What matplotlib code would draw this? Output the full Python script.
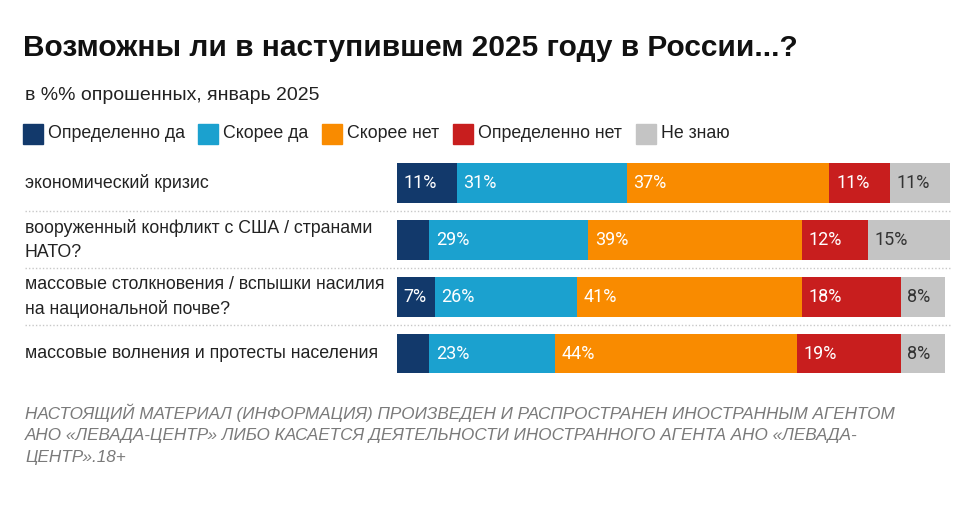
import matplotlib
matplotlib.use("Agg")
import matplotlib.pyplot as plt
from matplotlib.patches import Rectangle
from matplotlib.lines import Line2D
from matplotlib.transforms import blended_transform_factory

categories = [
    "экономический кризис",
    "вооруженный конфликт с США / странами\nНАТО?",
    "массовые столкновения / вспышки насилия\nна национальной почве?",
    "массовые волнения и протесты населения",
]
answers = ["Определенно да", "Скорее да", "Скорее нет", "Определенно нет", "Не знаю"]
definitely_yes = [11, 6, 7, 6]
rather_yes = [31, 29, 26, 23]
rather_no = [37, 39, 41, 44]
definitely_no = [11, 12, 18, 19]
dont_know = [11, 15, 8, 8]

series = [definitely_yes, rather_yes, rather_no, definitely_no, dont_know]
colors = ["#12396b", "#1ba1cf", "#f98b00", "#c81e1e", "#c4c4c4"]
text_colors = ["white", "white", "white", "white", "#333333"]

W, H = 974, 512
fig = plt.figure(figsize=(W / 100, H / 100), dpi=100)
fig.patch.set_facecolor("white")

# axes placed in pixel units
x0, x1 = 396.5, 950
y_top, y_bot = 154.5, 382
ax = fig.add_axes([x0 / W, 1 - y_bot / H, (x1 - x0) / W, (y_bot - y_top) / H])
ax.set_xlim(0, 101)
ax.set_ylim(len(categories) - 0.5, -0.5)
ax.axis("off")

sans = ["Liberation Sans", "DejaVu Sans"]
num_font = ["Roboto", "DejaVu Sans"]

for i in range(len(categories)):
    left = 0
    for s, vals in enumerate(series):
        v = vals[i]
        ax.barh(i, v, left=left, height=0.7, color=colors[s], edgecolor="none")
        if v >= 7:
            ax.text(left + 1.2, i, f"{v}%", ha="left", va="center",
                    fontsize=13, color=text_colors[s], family=num_font)
        left += v

# category labels and dotted separators
trans = blended_transform_factory(fig.transFigure, ax.transData)
for i, cat in enumerate(categories):
    fig.text(25 / W, i, cat, transform=trans, ha="left", va="center",
             fontsize=12.8, color="#222222", family=sans, linespacing=1.5)
for i in range(len(categories) - 1):
    fig.add_artist(Line2D([25 / W, 950 / W], [i + 0.5, i + 0.5], transform=trans,
                          color="#c8c8c8", linestyle=(0, (1, 1.5)), linewidth=1))

# title and subtitle
fig.text(23 / W, 1 - 48 / H, "Возможны ли в наступившем 2025 году в России...?",
         ha="left", va="center", fontsize=21.5, fontweight="bold", color="#111111", family=sans)
fig.text(25 / W, 1 - 95 / H, "в %% опрошенных, январь 2025",
         ha="left", va="center", fontsize=14, color="#222222", family=sans)

# legend
leg_x = [23, 198, 322, 453, 636]
for lx, lab, c in zip(leg_x, answers, colors):
    fig.add_artist(Rectangle((lx / W, 1 - 144 / H), 20 / W, 20 / H,
                             transform=fig.transFigure, color=c))
    fig.text((lx + 25) / W, 1 - 134 / H, lab, ha="left", va="center",
             fontsize=12.8, color="#222222", family=sans)

# footer
footer = ("НАСТОЯЩИЙ МАТЕРИАЛ (ИНФОРМАЦИЯ) ПРОИЗВЕДЕН И РАСПРОСТРАНЕН ИНОСТРАННЫМ АГЕНТОМ\n"
          "АНО «ЛЕВАДА-ЦЕНТР» ЛИБО КАСАЕТСЯ ДЕЯТЕЛЬНОСТИ ИНОСТРАННОГО АГЕНТА АНО «ЛЕВАДА-\n"
          "ЦЕНТР».18+")
fig.text(25 / W, 1 - 403 / H, footer, ha="left", va="top", fontsize=12.3,
         style="italic", color="#7a7a7a", family=sans, linespacing=1.55)

fig.savefig("out.png", dpi=100)
